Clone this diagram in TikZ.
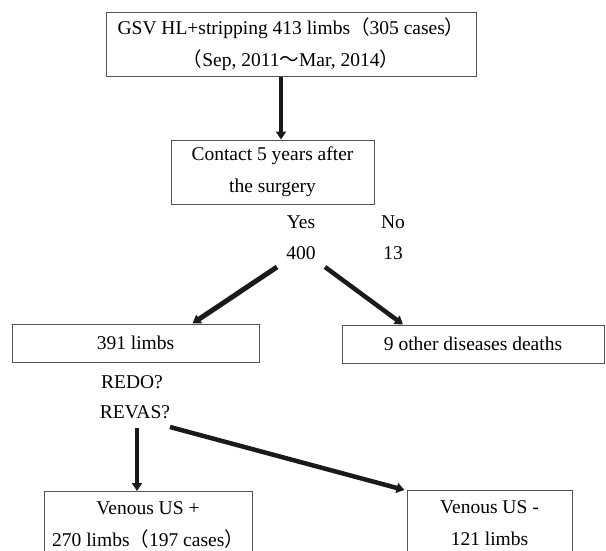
\documentclass[tikz,border=0pt]{standalone}
\usepackage{fontspec}
\setmainfont{Liberation Serif}
\newfontfamily\cjk{Noto Sans CJK JP}
\usetikzlibrary{arrows.meta,positioning,calc}
\definecolor{edge}{HTML}{555555}
\definecolor{ink}{HTML}{1A1A1A}
\tikzset{flowbox/.style={draw=edge,line width=1pt,align=center,
 font=\fontsize{19.5}{32}\selectfont,inner sep=0pt},
 flowarrow/.style={-{Triangle[length=8pt,width=10pt]},draw=ink,line width=4.5pt},
 flowlabel/.style={font=\fontsize{19.5}{22}\selectfont,inner sep=0pt}}

\begin{document}
\begin{tikzpicture}[x=1pt,y=-1pt,b/.style={flowbox,minimum height=64pt},s/.style={flowbox,minimum height=38pt},
 o/.style={flowbox,anchor=north,inner ysep=10pt,text depth=30pt}]
\useasboundingbox (0,0) rectangle (606,550);
\clip (0,0) rectangle (606,550);
\node[b,minimum width=370pt] (gsv) at (291,44) {GSV HL+stripping 413 limbs{\cjk （}305 cases{\cjk ）}\\{\cjk （}Sep, 2011{\cjk ～}Mar, 2014{\cjk ）}};
\node[b,minimum width=203pt] (ctc) at (272.5,172) {Contact 5 years after\\the surgery};
\node[flowlabel] (yes) at (301,222) {Yes};
\node[flowlabel] (no) at (393,222) {No};
\node[flowlabel] (n400) at (301,253) {400};
\node[flowlabel] (n13) at (393,253) {13};
\node[s,minimum width=247pt] (limbs) at (135.5,343) {391 limbs};
\node[s,minimum width=262pt] (dth) at (473,344) {9 other diseases deaths};
\node[flowlabel] (redo) at (132,382) {REDO?};
\node[flowlabel] (revas) at (135,412) {REVAS?};
\node[o,minimum width=208pt] (pos) at (148,491) {Venous US +\\270 limbs{\cjk （}197 cases{\cjk ）}};
\node[o,minimum width=165pt] (neg) at (489.5,490) {Venous US -\\121 limbs};
\draw[flowarrow] ([xshift=-10pt]gsv.south) -- ([xshift=-10pt]gsv.south |- ctc.north);
\draw[flowarrow,line width=5pt] ([shift={(-24,14)}]n400.center) -- ([xshift=57pt]limbs.north);
\draw[flowarrow] ([shift={(24,14)}]n400.center) -- ([xshift=-70pt]dth.north);
\draw[flowarrow,line width=3.5pt] ([shift={(2,16)}]revas.center) -- ([xshift=2pt]revas.center |- pos.north);
\draw[flowarrow] ([shift={(35,15)}]revas.center) -- ([xshift=-2pt]neg.north west);
\end{tikzpicture}
\end{document}
